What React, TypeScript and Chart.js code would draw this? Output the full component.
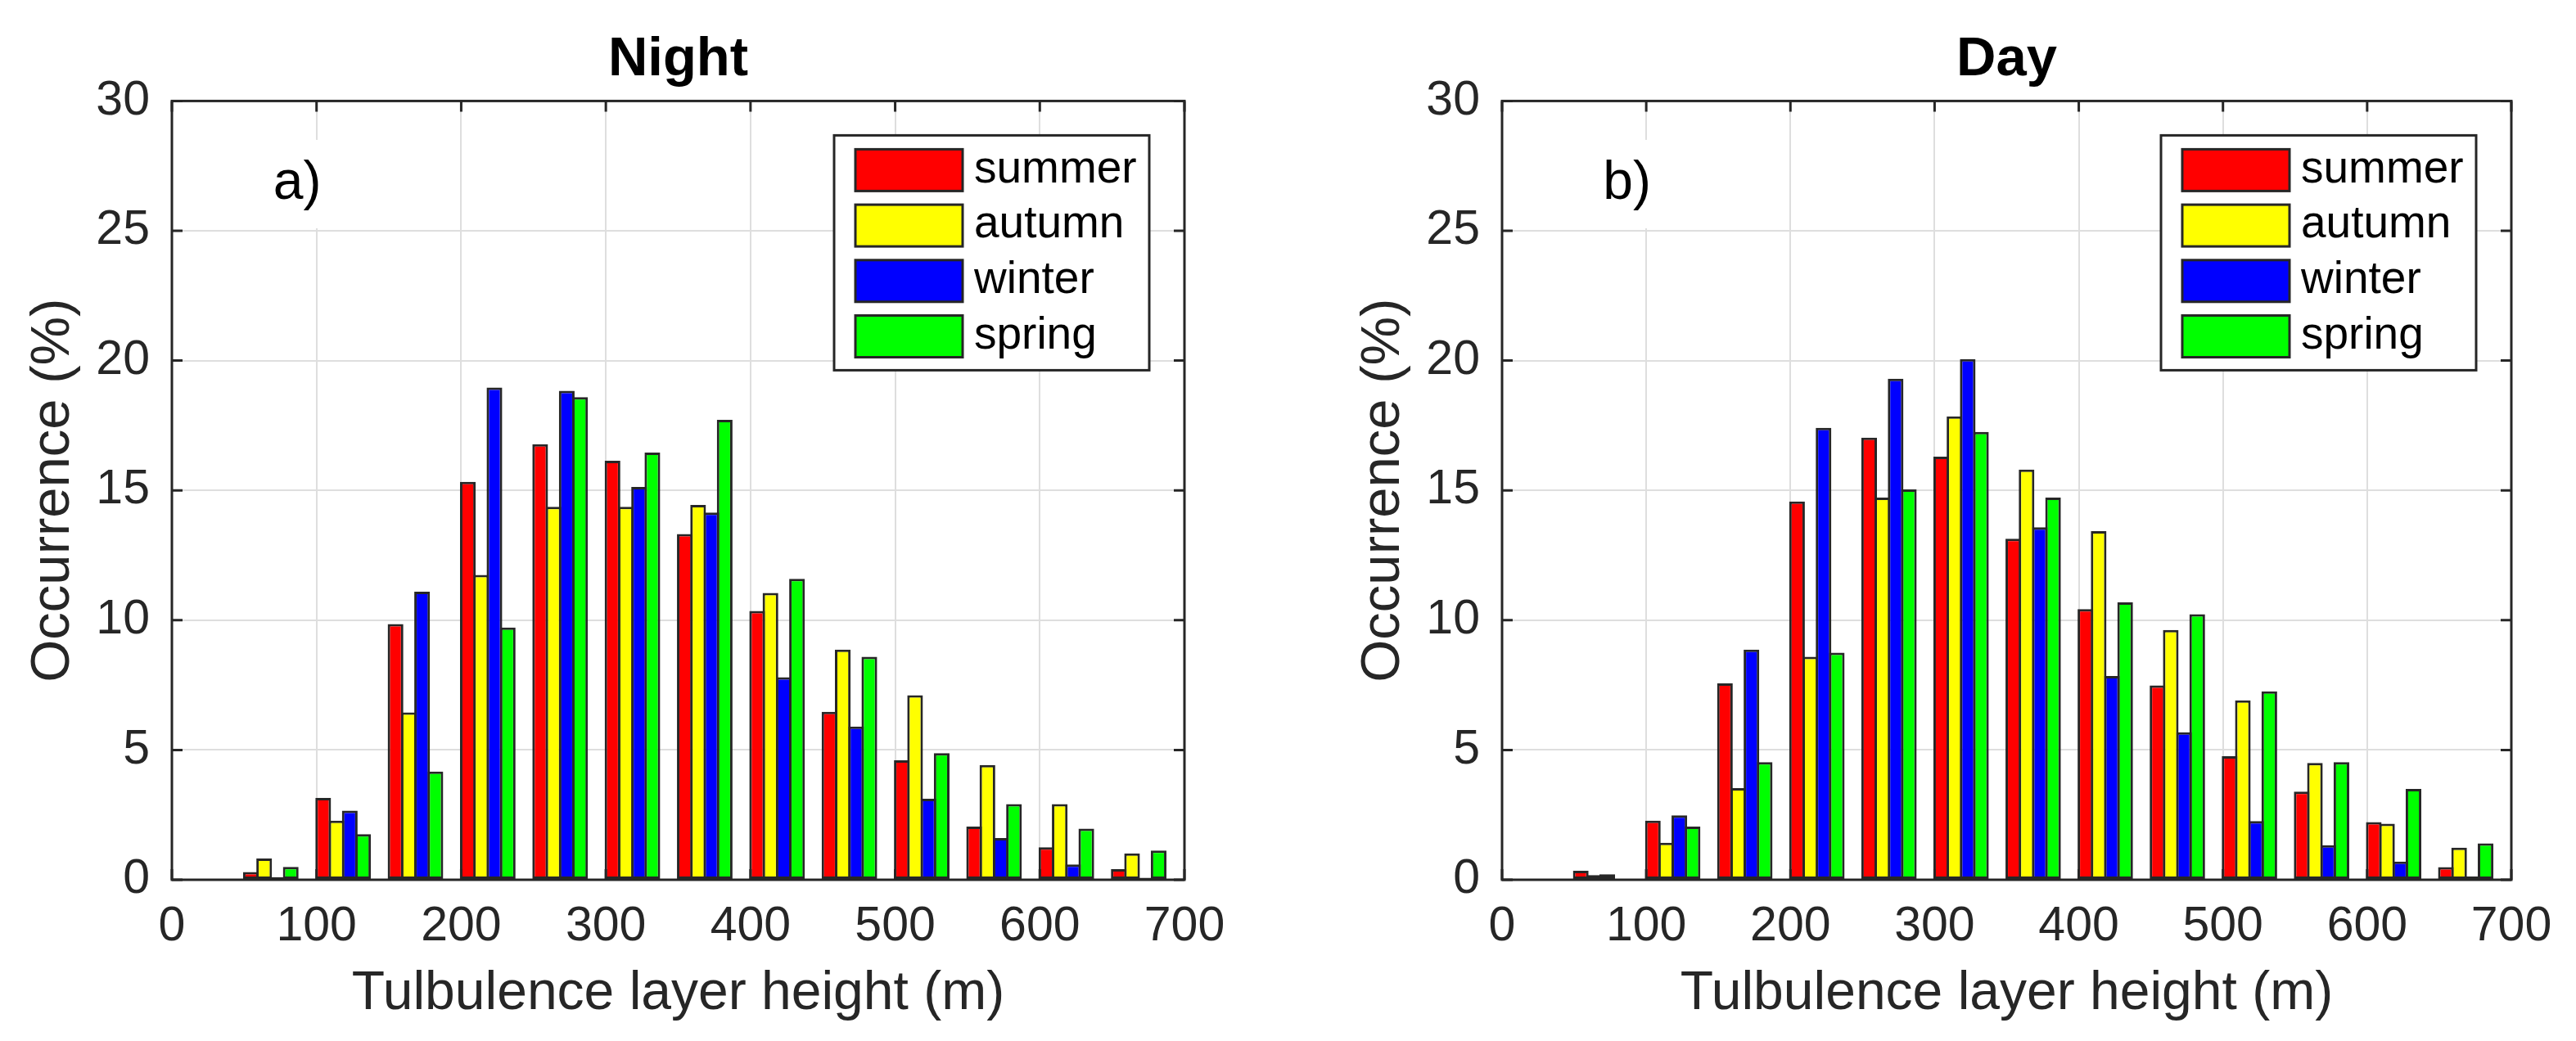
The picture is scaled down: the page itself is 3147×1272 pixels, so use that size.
import React, { useEffect, useRef } from "react";
import { Chart, registerables } from "chart.js";

Chart.register(...registerables);
Chart.defaults.font.family = "'Liberation Sans', Arial, Helvetica, sans-serif";

// seasons and their bar colours
const seasons = ["summer", "autumn", "winter", "spring"];
const seasonColors = ["#ff0000", "#ffff00", "#0000ff", "#00ff00"];

// lower edge of each 50 m height bin
const binStarts = [50, 100, 150, 200, 250, 300, 350, 400, 450, 500, 550, 600, 650];
const binWidth = 50;

// occurrence (%) at night
const nightSummer = [0.3, 3.15, 9.85, 15.33, 16.78, 16.14, 13.32, 10.36, 6.47, 4.6, 2.05, 1.25, 0.41];
const nightAutumn = [0.82, 2.28, 6.45, 11.74, 14.37, 14.37, 14.44, 11.05, 8.87, 7.11, 4.42, 2.92, 1.02];
const nightWinter = [0.1, 2.66, 11.1, 18.96, 18.84, 15.13, 14.15, 7.8, 5.9, 3.12, 1.61, 0.59, 0.08];
const nightSpring = [0.5, 1.76, 4.17, 9.72, 18.59, 16.46, 17.72, 11.59, 8.59, 4.88, 2.92, 1.97, 1.13];

// occurrence (%) during the day
const daySummer = [0.35, 2.28, 7.57, 14.57, 17.03, 16.3, 13.14, 10.43, 7.49, 4.76, 3.4, 2.22, 0.49];
const dayAutumn = [0.18, 1.43, 3.53, 8.59, 14.72, 17.85, 15.8, 13.43, 9.62, 6.91, 4.5, 2.16, 1.24];
const dayWinter = [0.21, 2.48, 8.87, 17.41, 19.3, 20.06, 13.58, 7.85, 5.68, 2.26, 1.33, 0.7, 0.13];
const daySpring = [0, 2.05, 4.53, 8.75, 15.04, 17.25, 14.72, 10.69, 10.23, 7.26, 4.53, 3.5, 1.4];

const ink = "#262626";
const gridColor = "#dedede";
const groupFrac = 0.735;

const framePlugin = {
  id: "frame",
  afterDraw(chart: any, _args: any, opts: any) {
    const { ctx, chartArea: a, scales } = chart;
    ctx.save();

    // panel tag with a white background
    const tx = scales.x.getPixelForValue(opts.tagX);
    const ty = scales.y.getPixelForValue(opts.tagY);
    ctx.font = "66px 'Liberation Sans', Arial, sans-serif";
    const tw = ctx.measureText(opts.tag).width;
    ctx.fillStyle = "#fff";
    ctx.fillRect(tx - 12, ty - 54, tw + 24, 108);
    ctx.fillStyle = "#000";
    ctx.textAlign = "left";
    ctx.textBaseline = "middle";
    ctx.fillText(opts.tag, tx, ty);

    // axes box and inward ticks
    ctx.strokeStyle = ink;
    ctx.lineWidth = 3;
    ctx.strokeRect(a.left, a.top, a.right - a.left, a.bottom - a.top);
    const tl = 13;
    ctx.beginPath();
    scales.x.ticks.forEach((t: any) => {
      const px = scales.x.getPixelForValue(t.value);
      ctx.moveTo(px, a.bottom);
      ctx.lineTo(px, a.bottom - tl);
      ctx.moveTo(px, a.top);
      ctx.lineTo(px, a.top + tl);
    });
    scales.y.ticks.forEach((t: any) => {
      const py = scales.y.getPixelForValue(t.value);
      ctx.moveTo(a.left, py);
      ctx.lineTo(a.left + tl, py);
      ctx.moveTo(a.right, py);
      ctx.lineTo(a.right - tl, py);
    });
    ctx.stroke();

    // legend, top right inside the axes
    const lw = 385;
    const lh = 287;
    const lx = a.right - 43 - lw;
    const ly = a.top + 42;
    ctx.fillStyle = "#fff";
    ctx.fillRect(lx, ly, lw, lh);
    ctx.strokeRect(lx, ly, lw, lh);
    ctx.font = "55px 'Liberation Sans', Arial, sans-serif";
    chart.data.datasets.forEach((ds: any, i: number) => {
      const cy = ly + 42 + i * 67.7;
      ctx.fillStyle = ds.backgroundColor;
      ctx.fillRect(lx + 26, cy - 25, 131, 51);
      ctx.strokeRect(lx + 26, cy - 25, 131, 51);
      ctx.fillStyle = "#000";
      ctx.fillText(ds.label, lx + 171, cy);
    });

    ctx.restore();
  },
};

interface PanelProps {
  title: string;
  tag: string;
  series: number[][];
  left: number;
  width: number;
  padLeft: number;
  padRight: number;
}

const Panel: React.FC<PanelProps> = ({ title, tag, series, left, width, padLeft, padRight }) => {
  const chartRef = useRef<HTMLCanvasElement | null>(null);

  useEffect(() => {
    if (!chartRef.current) return;

    const chart = new Chart(chartRef.current, {
      type: "bar",
      data: {
        datasets: seasons.map((name, i) => ({
          label: name,
          data: binStarts.map((b, j) => ({ x: b + (binWidth * groupFrac) / 2, y: series[i][j] })),
          backgroundColor: seasonColors[i],
          borderColor: ink,
          borderWidth: 3,
          borderSkipped: false,
          categoryPercentage: groupFrac,
          barPercentage: 1.18,
        })),
      },
      options: {
        responsive: false,
        animation: false,
        devicePixelRatio: 1,
        layout: { padding: { left: padLeft, right: padRight, top: 0, bottom: 0 } },
        plugins: {
          legend: { display: false },
          tooltip: { enabled: false },
          title: {
            display: true,
            text: title,
            fullSize: false,
            color: "#000",
            font: { size: 67, weight: "bold", lineHeight: 1.2 },
            padding: { top: 33, bottom: 10 },
          },
          frame: { tag, tagX: 70, tagY: 26.8 },
        } as any,
        scales: {
          x: {
            type: "linear",
            min: 0,
            max: 700,
            offset: false,
            grid: { offset: false, color: gridColor, lineWidth: 2, drawTicks: false },
            border: { display: false },
            ticks: {
              stepSize: 100,
              padding: 22,
              color: ink,
              autoSkip: false,
              maxRotation: 0,
              font: { size: 59, lineHeight: 1.2 },
            },
            title: {
              display: true,
              text: "Tulbulence layer height (m)",
              color: ink,
              font: { size: 66, lineHeight: 1.2 },
              padding: { top: 0, bottom: 18 },
            },
            afterFit: (s: any) => {
              s.height = 197;
            },
          },
          y: {
            min: 0,
            max: 30,
            grid: { color: gridColor, lineWidth: 2, drawTicks: false },
            border: { display: false },
            ticks: {
              stepSize: 5,
              padding: 27,
              color: ink,
              font: { size: 59, lineHeight: 1.2 },
            },
            title: {
              display: true,
              text: "Occurrence (%)",
              color: ink,
              font: { size: 67, lineHeight: 1.2 },
              padding: { top: 25, bottom: 0 },
            },
            afterFit: (s: any) => {
              s.width = 210;
            },
          },
        },
      } as any,
      plugins: [framePlugin],
    });

    return () => {
      chart.destroy();
    };
  }, [title, tag, series, padLeft, padRight]);

  return (
    <canvas
      ref={chartRef}
      width={width}
      height={1272}
      style={{ position: "absolute", left, top: 0, width, height: 1272 }}
    />
  );
};

const nightSeries = [nightSummer, nightAutumn, nightWinter, nightSpring];
const daySeries = [daySummer, dayAutumn, dayWinter, daySpring];

export default function App() {
  return (
    <div style={{ position: "absolute", left: 0, top: 0, width: 3147, height: 1272, background: "#fff", overflow: "hidden" }}>
      <Panel title="Night" tag="a)" series={nightSeries} left={0} width={1573} padLeft={0} padRight={126} />
      <Panel title="Day" tag="b)" series={daySeries} left={1573} width={1574} padLeft={52} padRight={79} />
    </div>
  );
}
